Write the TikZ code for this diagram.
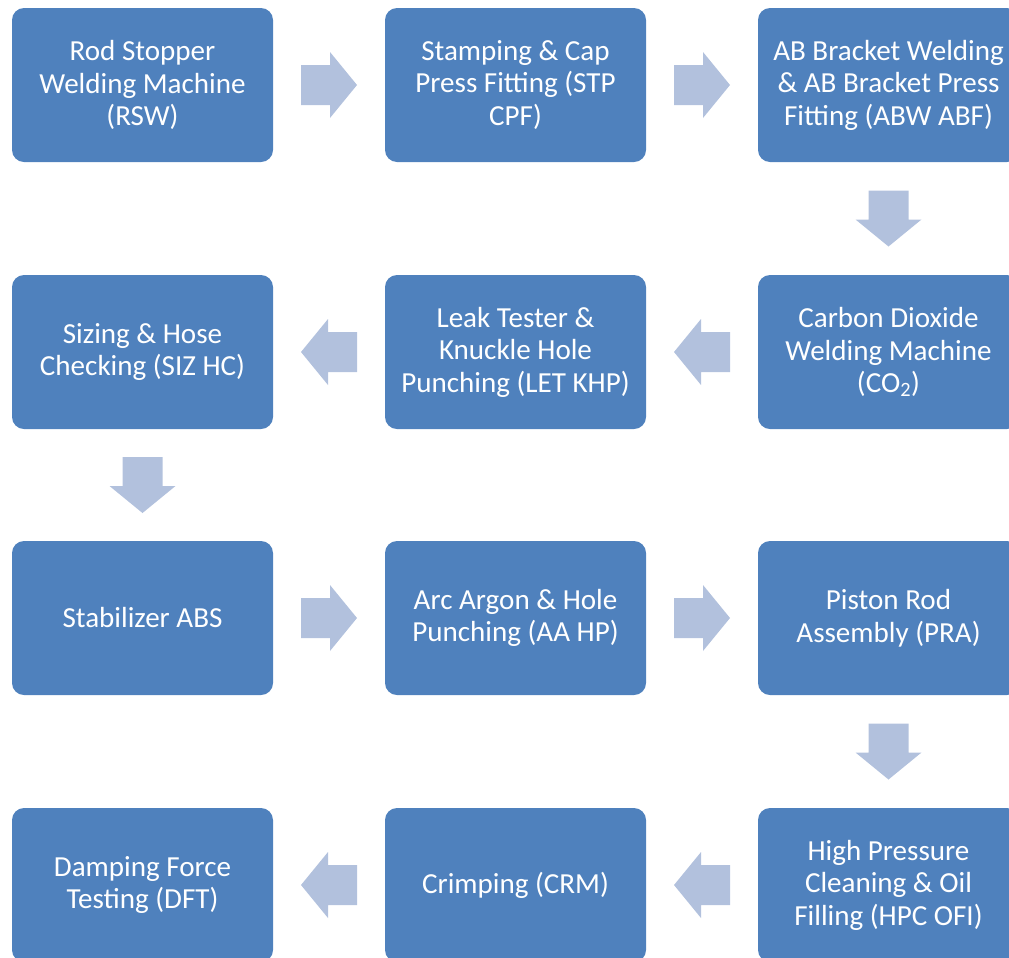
\documentclass[tikz,border=0pt]{standalone}
\usepackage{fontspec}
\setmainfont{Carlito}
\usetikzlibrary{calc}
\definecolor{boxblue}{HTML}{4F81BD}
\definecolor{arrowblue}{HTML}{B2C1DD}

\begin{document}
\begin{tikzpicture}[
    x=0.75pt, y=-0.75pt,
    stage/.style={fill=boxblue, rounded corners=9pt, minimum width=195.75pt, minimum height=115.5pt, align=center, text=white, font=\fontsize{21.8}{24.4}\selectfont, inner sep=0pt},
    flowarrow/.pic={\fill[arrowblue] (-28,-20) -- (1,-20) -- (1,-33) -- (28,0) -- (1,33) -- (1,20) -- (-28,20) -- cycle;}
]
\useasboundingbox (0,0) rectangle (1009,957);

% Row 1 (left to right)
\node[stage] (rsw) at (142.5, 85) {Rod Stopper\\Welding Machine\\(RSW)};
\node[stage] (stp) at (515.5, 85) {Stamping \& Cap\\Press Fitting (STP\\CPF)};
\node[stage] (abw) at (888.5, 85) {AB Bracket Welding\\\& AB Bracket Press\\Fitting (ABW ABF)};

% Row 2 (right to left)
\node[stage] (co2) at (888.5, 352) {Carbon Dioxide\\Welding Machine\\(CO\textsubscript{2})};
\node[stage] (let) at (515.5, 352) {Leak Tester \&\\Knuckle Hole\\Punching (LET KHP)};
\node[stage] (siz) at (142.5, 352) {Sizing \& Hose\\Checking (SIZ HC)};

% Row 3 (left to right)
\node[stage] (abs) at (142.5, 618) {Stabilizer ABS};
\node[stage] (aahp) at (515.5, 618) {Arc Argon \& Hole\\Punching (AA HP)};
\node[stage] (pra) at (888.5, 618) {Piston Rod\\Assembly (PRA)};

% Row 4 (right to left)
\node[stage] (hpc) at (888.5, 885) {High Pressure\\Cleaning \& Oil\\Filling (HPC OFI)};
\node[stage] (crm) at (515.5, 885) {Crimping (CRM)};
\node[stage] (dft) at (142.5, 885) {Damping Force\\Testing (DFT)};

% Flow arrows
\pic at ($(rsw.east)!0.5!(stp.west)$) {flowarrow};
\pic at ($(stp.east)!0.5!(abw.west)$) {flowarrow};
\pic[rotate=-90] at ($(abw.south)!0.5!(co2.north)$) {flowarrow};
\pic[rotate=180] at ($(co2.west)!0.5!(let.east)$) {flowarrow};
\pic[rotate=180] at ($(let.west)!0.5!(siz.east)$) {flowarrow};
\pic[rotate=-90] at ($(siz.south)!0.5!(abs.north)$) {flowarrow};
\pic at ($(abs.east)!0.5!(aahp.west)$) {flowarrow};
\pic at ($(aahp.east)!0.5!(pra.west)$) {flowarrow};
\pic[rotate=-90] at ($(pra.south)!0.5!(hpc.north)$) {flowarrow};
\pic[rotate=180] at ($(hpc.west)!0.5!(crm.east)$) {flowarrow};
\pic[rotate=180] at ($(crm.west)!0.5!(dft.east)$) {flowarrow};

\end{tikzpicture}
\end{document}
